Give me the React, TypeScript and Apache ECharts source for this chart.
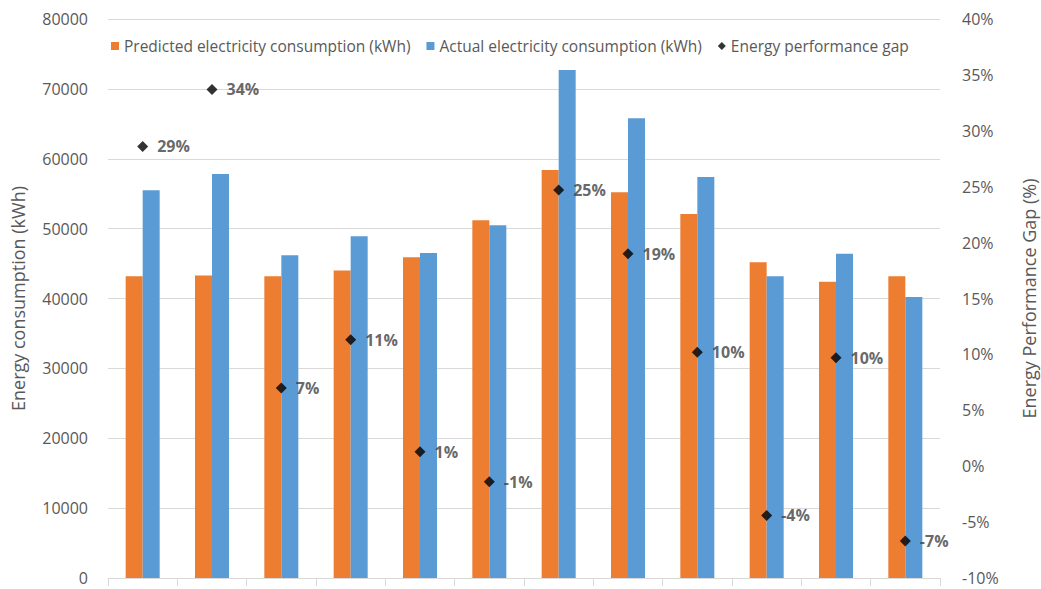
import React, { useEffect, useRef } from "react";
import * as echarts from "echarts";

// Twelve periods, no category labels are shown on the axis
const categories = ["1", "2", "3", "4", "5", "6", "7", "8", "9", "10", "11", "12"];

// Electricity consumption in kWh
const predicted = [43200, 43300, 43200, 44000, 45900, 51200, 58400, 55200, 52100, 45200, 42400, 43200];
const actual = [55500, 57800, 46200, 48900, 46500, 50500, 72700, 65800, 57400, 43200, 46400, 40200];

// Energy performance gap in percent
const gap = [28.6, 33.7, 7.0, 11.3, 1.3, -1.4, 24.7, 19.0, 10.2, -4.4, 9.7, -6.7];

const FONT = "'Open Sans', 'Noto Sans', sans-serif";
const ORANGE = "#ED7D31";
const BLUE = "#5B9BD5";
const GRID = "#D9D9D9";
const TEXT = "#595959";

export default function App() {
  const ref = useRef<HTMLDivElement>(null);

  useEffect(() => {
    if (!ref.current) return;
    const chart = echarts.init(ref.current, undefined, { renderer: "svg" });
    chart.setOption({
      animation: false,
      textStyle: { fontFamily: FONT },
      legend: {
        left: 106,
        top: 33,
        itemWidth: 8,
        itemHeight: 8,
        itemGap: 16,
        textStyle: { fontSize: 15.5, color: TEXT, fontFamily: FONT },
        data: [
          { name: "Predicted electricity consumption (kWh)", icon: "rect" },
          { name: "Actual electricity consumption (kWh)", icon: "rect" },
          { name: "Energy performance gap", icon: "diamond" },
        ],
      },
      grid: {
        left: 108,
        right: 101,
        top: 19,
        bottom: 11,
        outerBoundsMode: "none",
        containLabel: false,
      },
      xAxis: {
        type: "category",
        data: categories,
        boundaryGap: true,
        axisLine: { lineStyle: { color: GRID, width: 1 } },
        axisTick: { show: true, length: 8, lineStyle: { color: GRID } },
        axisLabel: { show: false },
      },
      yAxis: [
        {
          type: "value",
          min: 0,
          max: 80000,
          interval: 10000,
          name: "Energy consumption (kWh)",
          nameLocation: "middle",
          nameGap: 81,
          nameTextStyle: { fontSize: 18, color: TEXT, fontFamily: FONT },
          axisLine: { show: false },
          axisTick: { show: false },
          axisLabel: {
            fontSize: 16,
            color: TEXT,
            margin: 20,
            fontFamily: FONT,
            formatter: (v: number) => String(v),
          },
          splitLine: { lineStyle: { color: GRID, width: 1 } },
        },
        {
          type: "value",
          min: -10,
          max: 40,
          interval: 5,
          position: "right",
          name: "Energy Performance Gap (%)",
          nameLocation: "middle",
          nameGap: 80,
          nameRotate: 90,
          nameTextStyle: { fontSize: 18, color: TEXT, fontFamily: FONT },
          axisLine: { show: false },
          axisTick: { show: false },
          axisLabel: {
            fontSize: 16,
            color: TEXT,
            margin: 22,
            fontFamily: FONT,
            formatter: (v: number) => `${v}%`,
          },
          splitLine: { show: false },
        },
      ],
      series: [
        {
          name: "Predicted electricity consumption (kWh)",
          type: "bar",
          data: predicted,
          barWidth: 17,
          barGap: "0%",
          itemStyle: { color: ORANGE },
        },
        {
          name: "Actual electricity consumption (kWh)",
          type: "bar",
          data: actual,
          barWidth: 17,
          barGap: "0%",
          itemStyle: { color: BLUE },
        },
        {
          name: "Energy performance gap",
          type: "scatter",
          yAxisIndex: 1,
          data: gap,
          symbol: "diamond",
          symbolSize: 11,
          itemStyle: { color: "#000000" },
          label: {
            show: true,
            position: "right",
            distance: 9,
            fontSize: 16,
            fontWeight: "bold",
            color: "#404040",
            fontFamily: FONT,
            formatter: (p: any) => `${Math.round(p.value)}%`,
          },
          z: 5,
        },
      ],
    });
    return () => chart.dispose();
  }, []);

  return (
    <div
      ref={ref}
      style={{ position: "fixed", left: 0, top: 0, width: 1041, height: 589, background: "#ffffff" }}
    />
  );
}
